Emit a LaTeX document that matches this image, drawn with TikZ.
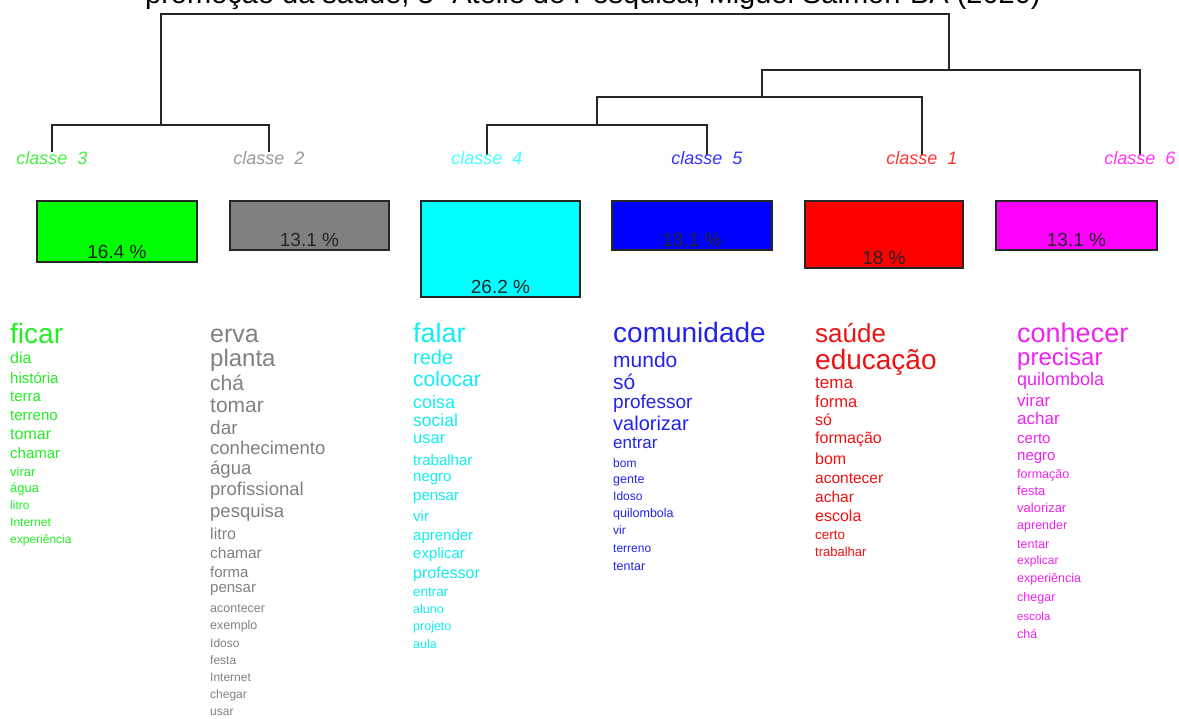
\documentclass[tikz,border=0pt]{standalone}
\usepackage{fontspec}
\setmainfont{Liberation Sans}
\definecolor{cG}{HTML}{22EE22}
\definecolor{cY}{HTML}{808080}
\definecolor{cC}{HTML}{11EEEE}
\definecolor{cB}{HTML}{2222EE}
\definecolor{cR}{HTML}{EE1111}
\definecolor{cM}{HTML}{EE22EE}
\definecolor{lG}{HTML}{44EE44}
\definecolor{lY}{HTML}{999999}
\definecolor{lC}{HTML}{44FFFF}
\definecolor{lB}{HTML}{3333FF}
\definecolor{lR}{HTML}{FF3333}
\definecolor{lM}{HTML}{FF33FF}
\definecolor{fG}{HTML}{00FF00}
\definecolor{fY}{HTML}{808080}
\definecolor{fC}{HTML}{00FFFF}
\definecolor{fB}{HTML}{0000FF}
\definecolor{fR}{HTML}{FF0000}
\definecolor{fM}{HTML}{FF00FF}
\begin{document}
\begin{tikzpicture}[x=1pt,y=-1pt,
  dend/.style={line width=1.4pt, black!85},
  cls/.style={font=\fontsize{18}{18}\selectfont\itshape, inner sep=0pt, anchor=mid},
  barbox/.style={draw=black!85, line width=1.3pt},
  pct/.style={font=\fontsize{19}{19}\selectfont, text=black!85, anchor=base, inner sep=0pt},
  wrd/.style={anchor=mid west, inner sep=0pt}]
\useasboundingbox (0,0) rectangle (1179,719);
\clip (0,0) rectangle (1179,719);
% title (cut off at top)
\node[anchor=base west, inner sep=0pt, font=\fontsize{29}{29}\selectfont] (title) at (145,4) {promoção da saúde, 3º Ateliê de Pesquisa, Miguel Salmon-BA (2020)};
% dendrogram coordinates
\coordinate (a3) at (52,152);
\coordinate (a2) at (269,152);
\coordinate (a4) at (487,155);
\coordinate (a5) at (707,155);
\coordinate (a1) at (922,155);
\coordinate (a6) at (1140,155);
\coordinate (m32) at (161,125);
\coordinate (m45) at (597,125);
\coordinate (m451) at (762,97);
\coordinate (m4516) at (949,70);
\coordinate (root) at (555,14);
\draw[dend] (a3) |- (m32) -| (a2);
\draw[dend] (a4) |- (m45) -| (a5);
\draw[dend] (m45) |- (m451) -| (a1);
\draw[dend] (m451) |- (m4516) -| (a6);
\draw[dend] (m32) |- (root) -| (m4516);
% class labels
\node[cls, text=lG] (l3) at (52,162) {classe\ \ 3};
\node[cls, text=lY] (l2) at (269,162) {classe\ \ 2};
\node[cls, text=lC] (l4) at (487,162) {classe\ \ 4};
\node[cls, text=lB] (l5) at (707,162) {classe\ \ 5};
\node[cls, text=lR] (l1) at (922,162) {classe\ \ 1};
\node[cls, text=lM] (l6) at (1140,162) {classe\ \ 6};
% bars
\draw[barbox, fill=fG] (37,201) rectangle (197,262);
\node[pct] (p3) at (117,259) {16.4 \%};
\draw[barbox, fill=fY] (230,201) rectangle (389,250);
\node[pct] (p2) at (309.5,247) {13.1 \%};
\draw[barbox, fill=fC] (421,201) rectangle (580,297);
\node[pct] (p4) at (500.5,294) {26.2 \%};
\draw[barbox, fill=fB] (612,201) rectangle (772,250);
\node[pct] (p5) at (692,247) {13.1 \%};
\draw[barbox, fill=fR] (805,201) rectangle (963,268);
\node[pct] (p1) at (884,265) {18 \%};
\draw[barbox, fill=fM] (996,201) rectangle (1157,250);
\node[pct] (p6) at (1076.5,247) {13.1 \%};
% word lists
\foreach \t/\y/\s [count=\i] in {ficar/341/28, dia/361/16, história/381/15, terra/399/15, terreno/418/15, tomar/437/16, chamar/456/15, virar/474/13, água/490/13, litro/507/12, Internet/524/12, experiência/541/12}
  \node[wrd, text=cG, font=\fontsize{\s}{\s}\selectfont] (g\i) at (10,\y) {\t};
\foreach \t/\y/\s [count=\i] in {erva/340/25, planta/364/24, chá/388/21, tomar/410/21, dar/432/19, conhecimento/452/18.5, água/472/18.5, profissional/493/18.5, pesquisa/515/18.5, litro/537/16, chamar/556/15.5, forma/575/15, pensar/590/15, acontecer/610/12.5, exemplo/627/12.5, Idoso/645/12, festa/662/12, Internet/679/12, chegar/696/12, usar/713/12}
  \node[wrd, text=cY, font=\fontsize{\s}{\s}\selectfont] (y\i) at (210,\y) {\t};
\foreach \t/\y/\s [count=\i] in {falar/340/27, rede/362/20, colocar/384/21, coisa/406/18, social/424/17.5, usar/441/16.5, trabalhar/463/15, negro/479/15, pensar/498/15, vir/519/15, aprender/538/15, explicar/556/15, professor/576/16, entrar/594/13.5, aluno/611/12.5, projeto/628/12.5, aula/646/12.5}
  \node[wrd, text=cC, font=\fontsize{\s}{\s}\selectfont] (c\i) at (413,\y) {\t};
\foreach \t/\y/\s [count=\i] in {comunidade/340/28, mundo/365/21, só/387/21, professor/406/19, valorizar/428/20, entrar/446/17, bom/465/12, gente/481/12.5, Idoso/498/12, quilombola/515/12.5, vir/532/12, terreno/550/12, tentar/568/12.5}
  \node[wrd, text=cB, font=\fontsize{\s}{\s}\selectfont] (b\i) at (613,\y) {\t};
\foreach \t/\y/\s [count=\i] in {saúde/340/26, educação/367/28, tema/386/17, forma/405/16.5, só/423/16, formação/441/16, bom/462/16, acontecer/481/15.5, achar/500/15.5, escola/519/16, certo/537/13.5, trabalhar/554/13}
  \node[wrd, text=cR, font=\fontsize{\s}{\s}\selectfont] (r\i) at (815,\y) {\t};
\foreach \t/\y/\s [count=\i] in {conhecer/340/27, precisar/363/24, quilombola/383/18, virar/404/17, achar/422/17, certo/441/15, negro/458/15, formação/476/12.5, festa/493/13, valorizar/510/13, aprender/527/12.5, tentar/546/12.5, explicar/562/12, experiência/580/12.5, chegar/599/12.5, escola/618/11.5, chá/636/12.5}
  \node[wrd, text=cM, font=\fontsize{\s}{\s}\selectfont] (m\i) at (1017,\y) {\t};
\end{tikzpicture}
\end{document}
